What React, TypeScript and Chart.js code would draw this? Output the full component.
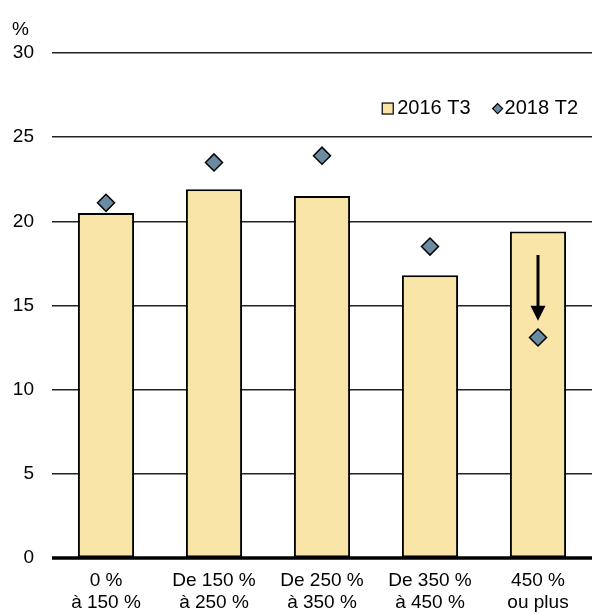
import React, { useEffect, useRef } from "react";
import { Chart, registerables } from "chart.js";

Chart.register(...registerables);

const categories: string[][] = [
  ["0 %", "à 150 %"],
  ["De 150 %", "à 250 %"],
  ["De 250 %", "à 350 %"],
  ["De 350 %", "à 450 %"],
  ["450 %", "ou plus"],
];
const series2016T3: number[] = [20.5, 21.9, 21.5, 16.8, 19.4];
const series2018T2: number[] = [21.1, 23.5, 23.9, 18.5, 13.1];
const legendLabels: string[] = ["2016 T3", "2018 T2"];
const yMin = 0;
const yMax = 30;
const yStep = 5;
const unitLabel = "%";
const arrowCategory = 4;
const arrowFrom = 18.0;
const arrowTo = 14.1;

const FONT = "Arial, 'Liberation Sans', sans-serif";
const BAR_FILL = "#FAE5A8";
const DIAMOND_FILL = "#6B8BA3";

export default function App() {
  const ref = useRef<HTMLCanvasElement | null>(null);

  useEffect(() => {
    document.body.style.margin = "0";
    const canvas = ref.current;
    if (!canvas) return;

    const overlay = {
      id: "overlay",
      afterDatasetsDraw(chart: any) {
        const ctx = chart.ctx;
        const xs = chart.scales.x;
        const ys = chart.scales.y;
        const area = chart.chartArea;
        ctx.save();
        // zero line on top of bars
        const y0 = ys.getPixelForValue(0);
        ctx.strokeStyle = "#000";
        ctx.lineWidth = 3.5;
        ctx.beginPath();
        ctx.moveTo(area.left, y0);
        ctx.lineTo(area.right, y0);
        ctx.stroke();

        // arrow
        const ax = xs.getPixelForValue(arrowCategory);
        const y1 = ys.getPixelForValue(arrowFrom);
        const y2 = ys.getPixelForValue(arrowTo);
        const head = 15;
        ctx.fillStyle = "#000";
        ctx.lineWidth = 3;
        ctx.beginPath();
        ctx.moveTo(ax, y1);
        ctx.lineTo(ax, y2 - head + 2);
        ctx.stroke();
        ctx.beginPath();
        ctx.moveTo(ax - 7.5, y2 - head);
        ctx.lineTo(ax + 7.5, y2 - head);
        ctx.lineTo(ax, y2);
        ctx.closePath();
        ctx.fill();

        // unit label
        ctx.font = `19px ${FONT}`;
        ctx.fillStyle = "#000";
        ctx.textAlign = "left";
        ctx.textBaseline = "middle";
        ctx.fillText(unitLabel, 12, area.top - 23);

        // legend
        ctx.font = `20px ${FONT}`;
        const ly = ys.getPixelForValue(26.7);
        const t2 = legendLabels[1];
        const t1 = legendLabels[0];
        const w2 = ctx.measureText(t2).width;
        const w1 = ctx.measureText(t1).width;
        let x = area.right - 14 - w2;
        ctx.fillText(t2, x, ly);
        const dx = x - 7;
        ctx.beginPath();
        ctx.moveTo(dx, ly - 5);
        ctx.lineTo(dx + 5, ly);
        ctx.lineTo(dx, ly + 5);
        ctx.lineTo(dx - 5, ly);
        ctx.closePath();
        ctx.fillStyle = DIAMOND_FILL;
        ctx.fill();
        ctx.lineWidth = 1.2;
        ctx.strokeStyle = "#000";
        ctx.stroke();
        x = dx - 27 - w1;
        ctx.fillStyle = "#000";
        ctx.fillText(t1, x, ly);
        ctx.fillStyle = BAR_FILL;
        ctx.fillRect(x - 15, ly - 5.5, 11, 11);
        ctx.lineWidth = 1.2;
        ctx.strokeRect(x - 15, ly - 5.5, 11, 11);
        ctx.restore();
      },
    };

    const chart = new Chart(canvas, {
      type: "bar",
      data: {
        labels: categories,
        datasets: [
          {
            type: "line",
            label: legendLabels[1],
            data: series2018T2,
            showLine: false,
            pointStyle: "rectRot",
            pointRadius: 8.5,
            pointBackgroundColor: DIAMOND_FILL,
            pointBorderColor: "#000",
            pointBorderWidth: 1.5,
            order: 0,
          } as any,
          {
            type: "bar",
            label: legendLabels[0],
            data: series2016T3,
            backgroundColor: BAR_FILL,
            borderColor: "#000",
            borderWidth: 2,
            borderSkipped: false,
            barPercentage: 0.52,
            categoryPercentage: 1,
            order: 1,
          },
        ],
      },
      options: {
        responsive: false,
        animation: false,
        layout: { autoPadding: false, padding: { top: 53, left: 13, right: 0, bottom: 0 } },
        plugins: {
          legend: { display: false },
          tooltip: { enabled: false },
        },
        scales: {
          x: {
            offset: true,
            grid: { display: false, drawTicks: false },
            border: { display: false },
            ticks: {
              color: "#000",
              font: { family: FONT, size: 19, lineHeight: 1.2 },
              padding: 11,
              maxRotation: 0,
              autoSkip: false,
            },
            afterFit(scale: any) {
              scale.paddingLeft = 0;
              scale.paddingRight = 0;
              scale.height = 56;
            },
          } as any,
          y: {
            min: yMin,
            max: yMax,
            border: { display: false },
            grid: {
              drawTicks: false,
              color: "#222",
              lineWidth: 1.5,
            },
            ticks: {
              stepSize: yStep,
              color: "#000",
              font: { family: FONT, size: 19 },
              padding: 18,
            },
            afterFit(scale: any) {
              scale.width = 39;
            },
          } as any,
        },
      },
      plugins: [overlay],
    });
    return () => chart.destroy();
  }, []);

  return (
    <div style={{ width: 592, height: 614 }}>
      <canvas ref={ref} width={592} height={614} style={{ display: "block" }} />
    </div>
  );
}
